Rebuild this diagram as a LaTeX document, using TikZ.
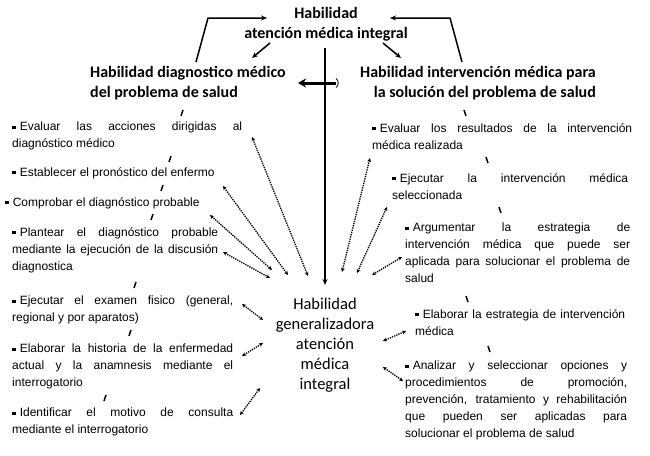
\documentclass[tikz,border=0pt]{standalone}
\usepackage{fontspec}
\setmainfont{Liberation Sans}
\newfontfamily\calib{Carlito}
\usetikzlibrary{arrows.meta}
\newcommand{\sqb}{\rule[0.14em]{0.3em}{0.3em}\hspace{4pt}}
\begin{document}
\begin{tikzpicture}[x=1pt,y=-1pt,
  item/.style={anchor=north west, inner sep=0pt, font=\fontsize{12}{17}\selectfont, align=justify},
  sitem/.style={anchor=north west, inner sep=0pt, font=\fontsize{12}{17}\selectfont},
  ttl/.style={inner sep=0pt, font=\calib\bfseries\fontsize{16}{19.5}\selectfont},
  dots/.style={densely dotted, line width=1.3pt, {Stealth[length=4pt,width=3.8pt]}-{Stealth[length=4pt,width=3.8pt]}},
  tick/.style={line width=1.5pt},
  sarrow/.style={line width=1.5pt, -{Stealth[length=6pt,width=5pt]}}
]
\useasboundingbox[fill=white] (0,0) rectangle (650,455);

% titles
\node[ttl, align=center] (top) at (326,24) {Habilidad\\atención médica integral};
\node[ttl, align=left, anchor=west] (ldiag) at (90,83) {Habilidad diagnostico médico\\del problema de salud};
\node[ttl, align=right, anchor=east] (rint) at (596,83) {Habilidad intervención médica para\\la solución del problema de salud};
\node[inner sep=0pt, align=center, font=\calib\fontsize{16.5}{20}\selectfont] (cen) at (325,345) {Habilidad\\generalizadora\\atención\\médica\\integral};

% bracket arrows
\coordinate (lb0) at (196,62); \coordinate (lb1) at (208,18); \coordinate (lb2) at (267,18);
\coordinate (rb0) at (462,62); \coordinate (rb1) at (450,18); \coordinate (rb2) at (390,18);
\draw[sarrow] (lb0) -- (lb1) -- (lb2);
\draw[sarrow] (rb0) -- (rb1) -- (rb2);
% small arrows from title
\coordinate (ta1) at (270,43); \coordinate (ta2) at (252,58);
\coordinate (tb1) at (383,43); \coordinate (tb2) at (401,58);
\draw[sarrow] (ta1) -- (ta2);
\draw[sarrow] (tb1) -- (tb2);
% vertical line
\coordinate (vtop) at (325,48); \coordinate (vbot) at (325,285);
\draw[sarrow] (vtop) -- (vbot);
% thick horizontal arrow
\coordinate (h1) at (336,83); \coordinate (h2) at (298,83);
\draw[line width=3pt, -{Stealth[length=8pt,width=9pt]}] (h1) -- (h2);
\draw[line width=0.8pt] (336,78.5) .. controls (339,80) and (339,86) .. (336,87.5);

% left items
\node[item, text width=230] (L1) at (12,122) {\sqb Evaluar las acciones dirigidas al\linebreak diagnóstico médico};
\node[sitem] (L2) at (12,167) {\sqb Establecer el pronóstico del enfermo};
\node[sitem] (L3) at (5,197) {\sqb Comprobar el diagnóstico probable};
\node[item, text width=206] (L4) at (12,227) {\sqb Plantear el diagnóstico probable\linebreak mediante la ejecución de la discusión\linebreak diagnostica};
\node[item, text width=221] (L5) at (12,296) {\sqb Ejecutar el examen fisico (general,\linebreak regional y por aparatos)};
\node[item, text width=221] (L6) at (12,344) {\sqb Elaborar la historia de la enfermedad\linebreak actual y la anamnesis mediante el\linebreak interrogatorio};
\node[item, text width=221] (L7) at (12,408) {\sqb Identificar el motivo de consulta\linebreak mediante el interrogatorio};

% right items
\node[item, text width=260] (R1) at (372,123) {\sqb Evaluar los resultados de la intervención\linebreak médica realizada};
\node[item, text width=236] (R2) at (392,173) {\sqb Ejecutar la intervención médica\linebreak seleccionada};
\node[item, text width=225] (R3) at (405,223) {\sqb Argumentar la estrategia de\linebreak intervención médica que puede ser\linebreak aplicada para solucionar el problema de\linebreak salud};
\node[item, text width=210] (R4) at (415,309) {\sqb Elaborar la estrategia de intervención\linebreak médica};
\node[item, text width=222] (R5) at (405,361) {\sqb Analizar y seleccionar opciones y\linebreak procedimientos de promoción,\linebreak prevención, tratamiento y rehabilitación\linebreak que pueden ser aplicadas para\linebreak solucionar el problema de salud};

% ticks
\foreach \x/\y in {182/113,170/159,162/188,152/217,135/285,130/333,105/398}
  \draw[tick] (\x-1,\y+3) -- (\x+1,\y-3);
\foreach \x/\y in {465/113,487/160,500/210,467/299,489/349}
  \draw[tick] (\x-1,\y-3) -- (\x+1,\y+3);

% dotted connectors, left
\coordinate (a1) at (252,137); \coordinate (b1) at (308,276);
\coordinate (a2) at (223,186); \coordinate (b2) at (288,275);
\coordinate (a3) at (210,215); \coordinate (b3) at (272,270);
\coordinate (a4) at (223,252); \coordinate (b4) at (270,278);
\coordinate (a5) at (242,304); \coordinate (b5) at (263,320);
\coordinate (a6) at (242,356); \coordinate (b6) at (263,343);
\coordinate (a7) at (240,415); \coordinate (b7) at (260,388);
\foreach \i in {1,...,7} \draw[dots] (a\i) -- (b\i);
% dotted connectors, right
\coordinate (c1) at (370,158); \coordinate (d1) at (342,272);
\coordinate (c2) at (387,207); \coordinate (d2) at (357,273);
\coordinate (c3) at (402,257); \coordinate (d3) at (372,275);
\coordinate (c4) at (406,331); \coordinate (d4) at (383,341);
\coordinate (c5) at (403,381); \coordinate (d5) at (383,367);
\foreach \i in {1,...,5} \draw[dots] (c\i) -- (d\i);
\end{tikzpicture}
\end{document}
